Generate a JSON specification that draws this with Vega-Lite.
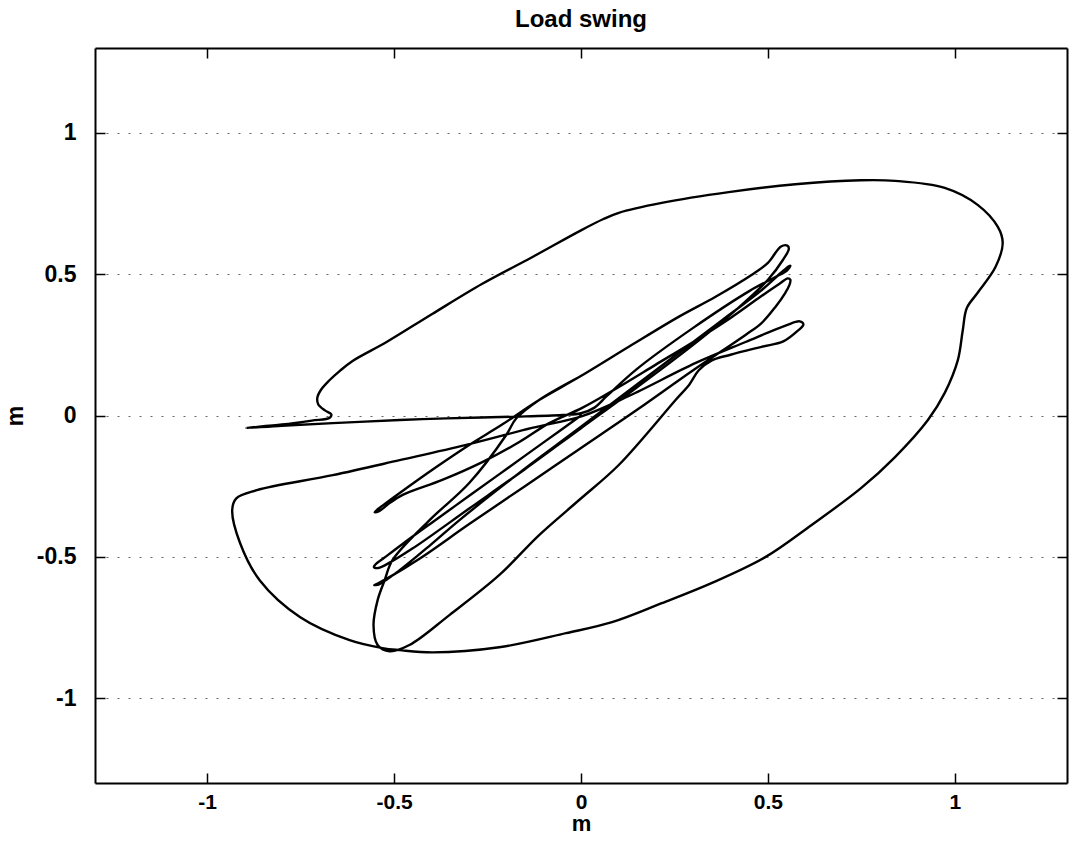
{
  "$schema": "https://vega.github.io/schema/vega-lite/v6.json",
  "autosize": {"type": "none"},
  "padding": {"left": 95, "top": 48, "right": 3, "bottom": 61},
  "width": 972,
  "height": 735,
  "background": "white",
  "config": {"view": {"stroke": null}},
  "title": {"text": "Load swing", "font": "Liberation Sans", "fontSize": 24, "fontWeight": "bold", "color": "black", "offset": 15, "anchor": "middle"},
  "data": {"values": [
    {"i":0,"x":0.0,"y":0.0},{"i":1,"x":-0.1,"y":-0.095},{"i":2,"x":-0.2,"y":-0.19},{"i":3,"x":-0.3,"y":-0.285},{"i":4,"x":-0.4,"y":-0.38},{"i":5,"x":-0.48,"y":-0.457},{"i":6,"x":-0.53,"y":-0.507},{"i":7,"x":-0.55,"y":-0.527},{"i":8,"x":-0.554,"y":-0.536},{"i":9,"x":-0.545,"y":-0.54},{"i":10,"x":-0.525,"y":-0.53},
    {"i":11,"x":-0.45,"y":-0.47},{"i":12,"x":-0.3,"y":-0.33},{"i":13,"x":-0.15,"y":-0.19},{"i":14,"x":0.0,"y":-0.045},{"i":15,"x":0.15,"y":0.1},{"i":16,"x":0.3,"y":0.25},{"i":17,"x":0.42,"y":0.38},{"i":18,"x":0.5,"y":0.48},{"i":19,"x":0.54,"y":0.55},{"i":20,"x":0.556,"y":0.59},{"i":21,"x":0.552,"y":0.601},{"i":22,"x":0.535,"y":0.598},
    {"i":23,"x":0.5,"y":0.54},{"i":24,"x":0.456,"y":0.497},{"i":25,"x":0.36,"y":0.42},{"i":26,"x":0.261,"y":0.349},{"i":27,"x":0.13,"y":0.245},{"i":28,"x":-0.005,"y":0.136},{"i":29,"x":-0.112,"y":0.055},{"i":30,"x":-0.211,"y":-0.032},{"i":31,"x":-0.299,"y":-0.104},{"i":32,"x":-0.387,"y":-0.182},{"i":33,"x":-0.485,"y":-0.274},{"i":34,"x":-0.53,"y":-0.318},{"i":35,"x":-0.552,"y":-0.342},{"i":36,"x":-0.54,"y":-0.338},
    {"i":37,"x":-0.512,"y":-0.31},{"i":38,"x":-0.477,"y":-0.281},{"i":39,"x":-0.371,"y":-0.228},{"i":40,"x":-0.264,"y":-0.165},{"i":41,"x":-0.165,"y":-0.094},{"i":42,"x":-0.085,"y":-0.027},{"i":43,"x":0.003,"y":0.027},{"i":44,"x":0.1,"y":0.1},{"i":45,"x":0.2,"y":0.18},{"i":46,"x":0.3,"y":0.26},{"i":47,"x":0.4,"y":0.345},{"i":48,"x":0.48,"y":0.42},{"i":49,"x":0.53,"y":0.465},{"i":50,"x":0.553,"y":0.485},{"i":51,"x":0.56,"y":0.48},
    {"i":52,"x":0.557,"y":0.46},{"i":53,"x":0.547,"y":0.435},{"i":54,"x":0.52,"y":0.384},{"i":55,"x":0.483,"y":0.327},{"i":56,"x":0.44,"y":0.285},{"i":57,"x":0.3,"y":0.16},{"i":58,"x":0.15,"y":0.02},{"i":59,"x":0.0,"y":-0.115},{"i":60,"x":-0.15,"y":-0.25},{"i":61,"x":-0.3,"y":-0.385},{"i":62,"x":-0.43,"y":-0.505},{"i":63,"x":-0.51,"y":-0.57},{"i":64,"x":-0.545,"y":-0.595},{"i":65,"x":-0.553,"y":-0.6},{"i":66,"x":-0.54,"y":-0.597},
    {"i":67,"x":-0.485,"y":-0.547},{"i":68,"x":-0.4,"y":-0.455},{"i":69,"x":-0.325,"y":-0.37},{"i":70,"x":-0.165,"y":-0.203},{"i":71,"x":0.0,"y":-0.04},{"i":72,"x":0.2,"y":0.16},{"i":73,"x":0.38,"y":0.34},{"i":74,"x":0.48,"y":0.44},{"i":75,"x":0.535,"y":0.505},{"i":76,"x":0.556,"y":0.528},{"i":77,"x":0.56,"y":0.53},
    {"i":78,"x":0.55,"y":0.512},{"i":79,"x":0.52,"y":0.49},{"i":80,"x":0.45,"y":0.44},{"i":81,"x":0.3,"y":0.31},{"i":82,"x":0.15,"y":0.165},{"i":83,"x":0.07,"y":0.07},{"i":84,"x":0.035,"y":0.027},{"i":85,"x":0.0,"y":0.008},{"i":86,"x":-0.05,"y":0.002},{"i":87,"x":-0.173,"y":-0.004},{"i":88,"x":-0.36,"y":-0.01},{"i":89,"x":-0.485,"y":-0.016},{"i":90,"x":-0.664,"y":-0.027},{"i":91,"x":-0.8,"y":-0.036},{"i":92,"x":-0.896,"y":-0.044},
    {"i":93,"x":-0.8,"y":-0.032},{"i":94,"x":-0.72,"y":-0.018},{"i":95,"x":-0.672,"y":-0.008},{"i":96,"x":-0.668,"y":0.004},{"i":97,"x":-0.685,"y":0.018},{"i":98,"x":-0.703,"y":0.04},{"i":99,"x":-0.705,"y":0.065},{"i":100,"x":-0.695,"y":0.092},{"i":101,"x":-0.675,"y":0.122},{"i":102,"x":-0.645,"y":0.158},{"i":103,"x":-0.611,"y":0.193},{"i":104,"x":-0.52,"y":0.26},{"i":105,"x":-0.397,"y":0.36},{"i":106,"x":-0.264,"y":0.466},{"i":107,"x":-0.131,"y":0.56},{"i":108,"x":0.0,"y":0.655},{"i":109,"x":0.06,"y":0.695},{"i":110,"x":0.101,"y":0.717},{"i":111,"x":0.216,"y":0.752},{"i":112,"x":0.395,"y":0.79},{"i":113,"x":0.573,"y":0.818},{"i":114,"x":0.749,"y":0.832},{"i":115,"x":0.84,"y":0.83},{"i":116,"x":0.973,"y":0.805},{"i":117,"x":1.061,"y":0.745},{"i":118,"x":1.115,"y":0.667},{"i":119,"x":1.128,"y":0.611},{"i":120,"x":1.109,"y":0.526},{"i":121,"x":1.061,"y":0.434},{"i":122,"x":1.032,"y":0.38},{"i":123,"x":1.021,"y":0.3},{"i":124,"x":1.008,"y":0.196},{"i":125,"x":0.973,"y":0.08},{"i":126,"x":0.928,"y":-0.016},{"i":127,"x":0.84,"y":-0.147},{"i":128,"x":0.749,"y":-0.257},{"i":129,"x":0.616,"y":-0.388},{"i":130,"x":0.493,"y":-0.501},{"i":131,"x":0.349,"y":-0.593},{"i":132,"x":0.216,"y":-0.664},{"i":133,"x":0.083,"y":-0.731},{"i":134,"x":-0.04,"y":-0.77},{"i":135,"x":-0.219,"y":-0.82},{"i":136,"x":-0.397,"y":-0.838},{"i":137,"x":-0.485,"y":-0.83},{"i":138,"x":-0.531,"y":-0.823},{"i":139,"x":-0.619,"y":-0.795},{"i":140,"x":-0.752,"y":-0.713},{"i":141,"x":-0.859,"y":-0.584},{"i":142,"x":-0.912,"y":-0.451},{"i":143,"x":-0.933,"y":-0.335},{"i":144,"x":-0.922,"y":-0.293},{"i":145,"x":-0.867,"y":-0.264},
    {"i":146,"x":-0.664,"y":-0.211},{"i":147,"x":-0.485,"y":-0.158},{"i":148,"x":-0.307,"y":-0.104},{"i":149,"x":-0.131,"y":-0.044},{"i":150,"x":0.003,"y":-0.002},{"i":151,"x":0.128,"y":0.069},{"i":152,"x":0.307,"y":0.186},{"i":153,"x":0.44,"y":0.26},{"i":154,"x":0.547,"y":0.318},{"i":155,"x":0.585,"y":0.333},{"i":156,"x":0.595,"y":0.322},{"i":157,"x":0.58,"y":0.3},{"i":158,"x":0.541,"y":0.262},{"i":159,"x":0.483,"y":0.243},{"i":160,"x":0.4,"y":0.215},{"i":161,"x":0.35,"y":0.195},{"i":162,"x":0.315,"y":0.16},{"i":163,"x":0.29,"y":0.11},{"i":164,"x":0.253,"y":0.055},{"i":165,"x":0.101,"y":-0.175},{"i":166,"x":-0.005,"y":-0.299},{"i":167,"x":-0.112,"y":-0.423},{"i":168,"x":-0.219,"y":-0.565},{"i":169,"x":-0.352,"y":-0.706},{"i":170,"x":-0.459,"y":-0.812},{"i":171,"x":-0.512,"y":-0.834},{"i":172,"x":-0.544,"y":-0.812},{"i":173,"x":-0.555,"y":-0.742},{"i":174,"x":-0.544,"y":-0.653},{"i":175,"x":-0.525,"y":-0.582},{"i":176,"x":-0.504,"y":-0.511},{"i":177,"x":-0.405,"y":-0.37},{"i":178,"x":-0.299,"y":-0.239},{"i":179,"x":-0.2,"y":-0.069},{"i":180,"x":-0.173,"y":-0.01},{"i":181,"x":-0.112,"y":0.055},{"i":182,"x":-0.005,"y":0.136}
  ]},
  "layer": [
    {
      "mark": {"type": "line", "color": "black", "strokeWidth": 2.4, "interpolate": "catmull-rom", "strokeJoin": "round", "strokeCap": "round", "clip": true},
      "encoding": {
        "x": {"field": "x", "type": "quantitative", "scale": {"domain": [-1.3, 1.3], "nice": false, "zero": false},
          "axis": {"orient": "bottom", "values": [-1, -0.5, 0, 0.5, 1], "labelExpr": "'' + datum.value", "tickSize": -10, "tickWidth": 1.5, "tickColor": "black", "domainColor": "black", "domainWidth": 2, "labelFont": "Liberation Sans", "labelFontSize": 21, "labelFontWeight": "bold", "labelColor": "black", "labelPadding": 18, "title": "m", "titleFont": "Liberation Sans", "titleFontSize": 22, "titleFontWeight": "bold", "titleColor": "black", "titlePadding": 1, "grid": false}},
        "y": {"field": "y", "type": "quantitative", "scale": {"domain": [-1.3, 1.3], "nice": false, "zero": false},
          "axis": {"orient": "left", "values": [-1, -0.5, 0, 0.5, 1], "labelExpr": "'' + datum.value", "tickSize": -10, "tickWidth": 1.5, "tickColor": "black", "domainColor": "black", "domainWidth": 2, "labelFont": "Liberation Sans", "labelFontSize": 23, "labelFontWeight": "bold", "labelColor": "black", "labelPadding": 29, "title": "m", "titleFont": "Liberation Sans", "titleFontSize": 23, "titleFontWeight": "bold", "titleColor": "black", "titlePadding": 9, "grid": true, "gridColor": "#666666", "gridDash": [2, 9], "gridWidth": 1}},
        "order": {"field": "i", "type": "quantitative"}
      }
    },
    {
      "mark": {"type": "line", "opacity": 0},
      "encoding": {
        "x": {"field": "x", "type": "quantitative", "axis": {"orient": "top", "values": [-1, -0.5, 0, 0.5, 1], "labels": false, "title": null, "tickSize": -10, "tickWidth": 1.5, "tickColor": "black", "domainColor": "black", "domainWidth": 2, "grid": false}},
        "y": {"field": "y", "type": "quantitative", "axis": {"orient": "right", "values": [-1, -0.5, 0, 0.5, 1], "labels": false, "title": null, "tickSize": -10, "tickWidth": 1.5, "tickColor": "black", "domainColor": "black", "domainWidth": 2, "grid": false}},
        "order": {"field": "i", "type": "quantitative"}
      }
    }
  ],
  "resolve": {"axis": {"x": "independent", "y": "independent"}}
}
